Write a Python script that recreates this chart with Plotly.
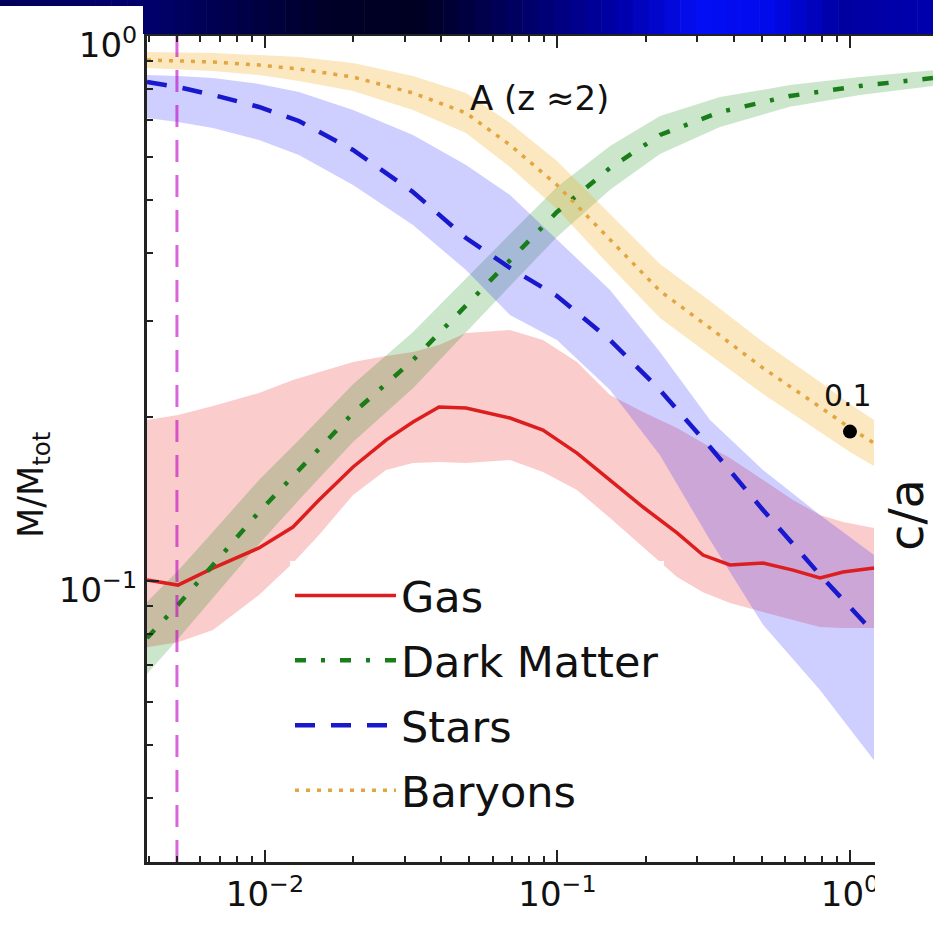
import numpy as np
import plotly.graph_objects as go

# ---------------- data ----------------
gas_r = [0.00395, 0.00504, 0.00664, 0.00954, 0.01246, 0.0153, 0.0200, 0.02593, 0.03206, 0.03935,
         0.04866, 0.0688, 0.0892, 0.1166, 0.1512, 0.196, 0.2563, 0.3144, 0.3888, 0.5043,
         0.6385, 0.7896, 0.9464, 1.208]
gas_mid = [0.1004, 0.0983, 0.1056, 0.1150, 0.1256, 0.1408, 0.1619, 0.1814, 0.1957, 0.2086,
           0.2077, 0.1991, 0.1892, 0.1717, 0.1532, 0.1367, 0.1225, 0.1116, 0.1070, 0.1079,
           0.1047, 0.1013, 0.1039, 0.1056]
gas_lo = [0.0756, 0.0772, 0.0813, 0.0943, 0.1079, 0.1215, 0.1438, 0.1598, 0.1646, 0.1653,
          0.1646, 0.1667, 0.1585, 0.1469, 0.1305, 0.1154, 0.1017, 0.0954, 0.0911, 0.0877,
          0.0848, 0.0823, 0.0820, 0.0820]
gas_hi = [0.1975, 0.2017, 0.2095, 0.2213, 0.2338, 0.2418, 0.2522, 0.2587, 0.2631, 0.2710,
          0.2851, 0.2888, 0.2768, 0.2522, 0.2194, 0.2042, 0.1909, 0.1791, 0.1681, 0.1532,
          0.1408, 0.1322, 0.1283, 0.1251]

dm_r = [0.00395, 0.00504, 0.00664, 0.00954, 0.01306, 0.0200, 0.03206, 0.04866, 0.0688, 0.0996,
        0.1512, 0.2241, 0.3594, 0.6236, 1.082, 1.922]
dm_mid = [0.0786, 0.0904, 0.1070, 0.1339, 0.1598, 0.2033, 0.2543, 0.3209, 0.3881, 0.4754,
          0.5726, 0.6582, 0.7254, 0.7762, 0.8097, 0.8372]
dm_lo = [0.0675, 0.0783, 0.0930, 0.1169, 0.1408, 0.1799, 0.2258, 0.2863, 0.3478, 0.4279,
         0.5220, 0.6072, 0.6811, 0.7413, 0.7793, 0.8097]
dm_hi = [0.0915, 0.1044, 0.1231, 0.1533, 0.1814, 0.2297, 0.2864, 0.3597, 0.4331, 0.5282,
         0.6281, 0.7135, 0.7726, 0.8127, 0.8413, 0.8657]

st_r = [0.00395, 0.00504, 0.00664, 0.00954, 0.01306, 0.0200, 0.03206, 0.04866, 0.0688, 0.0996,
        0.1512, 0.2241, 0.3322, 0.5043, 0.7896, 1.208]
st_mid = [0.8233, 0.8062, 0.7795, 0.7410, 0.6984, 0.6178, 0.5173, 0.4259, 0.3753, 0.3334,
          0.2768, 0.2241, 0.1761, 0.1350, 0.1026, 0.0803]
st_lo = [0.7074, 0.6955, 0.6780, 0.6445, 0.6049, 0.5329, 0.4498, 0.3721, 0.3076, 0.2768,
         0.2241, 0.1702, 0.1189, 0.0831, 0.0631, 0.0469]
st_hi = [0.8480, 0.8446, 0.8372, 0.8165, 0.7894, 0.7317, 0.6582, 0.5799, 0.5108, 0.4222,
         0.3420, 0.2631, 0.1975, 0.1598, 0.1322, 0.1116]

ba_r = [0.00395, 0.00664, 0.00954, 0.01306, 0.0200, 0.03206, 0.04866, 0.0688, 0.0996, 0.1512,
        0.2241, 0.3322, 0.5043, 0.7896, 1.0, 1.208]
ba_mid = [0.9036, 0.8960, 0.8847, 0.8698, 0.8409, 0.7860, 0.7225, 0.6310, 0.5329, 0.4222,
          0.3405, 0.2912, 0.2459, 0.2086, 0.1909, 0.1791]
ba_lo = [0.8735, 0.8625, 0.8481, 0.8268, 0.7926, 0.7316, 0.6639, 0.5750, 0.4816, 0.3783,
         0.3038, 0.2598, 0.2203, 0.1877, 0.1725, 0.1625]
ba_hi = [0.9347, 0.9308, 0.9228, 0.9150, 0.8922, 0.8445, 0.7862, 0.6925, 0.5897, 0.4713,
         0.3816, 0.3264, 0.2745, 0.2318, 0.2113, 0.1974]

r_soft = 0.005            # vertical dashed line
point_r, point_v = [1.0], [0.188]
point_label = "0.1"
panel_label = "A (z ≈2)"

x_tickvals = [0.01, 0.1, 1.0]
x_ticktext = ["10<sup>−2</sup>", "10<sup>−1</sup>", "10<sup>0</sup>"]
y_tickvals = [0.1, 1.0]
y_ticktext = ["10<sup>−1</sup>", "10<sup>0</sup>"]
x_minor = [0.004, 0.005, 0.006, 0.007, 0.008, 0.009,
           0.02, 0.03, 0.04, 0.05, 0.06, 0.07, 0.08, 0.09,
           0.2, 0.3, 0.4, 0.5, 0.6, 0.7, 0.8, 0.9]
y_minor = [0.04, 0.05, 0.06, 0.07, 0.08, 0.09,
           0.2, 0.3, 0.4, 0.5, 0.6, 0.7, 0.8, 0.9]

FONT = "DejaVu Sans"
W, H = 933, 927
L, R, T, B = 147, 0, 36, 65
XR = [-2.4034, 0.2838]
YR = [-1.5156, 0.0]

fig = go.Figure()


def band(x, lo, hi, color):
    fig.add_trace(go.Scatter(
        x=list(x) + list(x)[::-1], y=list(hi) + list(lo)[::-1],
        mode="lines", fill="toself", fillcolor=color, line=dict(width=0),
        showlegend=False, hoverinfo="skip"))


band(gas_r, gas_lo, gas_hi, "rgba(240,40,40,0.24)")
band(dm_r, dm_lo, dm_hi, "rgba(0,128,0,0.2)")
band(st_r, st_lo, st_hi, "rgba(30,30,255,0.22)")
band(ba_r, ba_lo, ba_hi, "rgba(240,170,30,0.28)")

fig.add_trace(go.Scatter(x=gas_r, y=gas_mid, mode="lines", name="Gas", legendgroup="g",
                         line=dict(color="#dd1e1e", width=3.5)))
fig.add_trace(go.Scatter(x=dm_r, y=dm_mid, mode="lines", name="Dark Matter", legendgroup="d",
                         line=dict(color="#1a7d1a", width=4.5, dash="11px,15px,4px,15px")))
fig.add_trace(go.Scatter(x=st_r, y=st_mid, mode="lines", name="Stars", legendgroup="s",
                         line=dict(color="#1818cc", width=4.5, dash="20px,16px")))
fig.add_trace(go.Scatter(x=ba_r, y=ba_mid, mode="lines", name="Baryons", legendgroup="b",
                         line=dict(color="#e2a640", width=3.5, dash="4px,7px")))

fig.add_trace(go.Scatter(x=[r_soft, r_soft], y=[10 ** YR[0], 10 ** YR[1]], mode="lines",
                         line=dict(color="rgba(191,0,191,0.6)", width=3, dash="22px,13px"),
                         showlegend=False, hoverinfo="skip"))
fig.add_trace(go.Scatter(x=point_r, y=point_v, mode="markers",
                         marker=dict(color="black", size=14), showlegend=False))

# ---------------- decorations ----------------


def ypx(p):
    return 1 + (T - p) / (H - T - B)


def xpx(p):
    return (p - L) / (W - L - R)


shapes = []
# slide header gradient band
anchors_x = [0, 144, 250, 330, 420, 520, 620, 700, 770, 840, 933]
anchors_c = [(0, 0, 90), (0, 0, 110), (0, 0, 70), (0, 0, 40), (0, 0, 35), (0, 0, 100),
             (0, 0, 170), (5, 15, 245), (0, 10, 235), (0, 0, 160), (0, 0, 175)]
edges = list(np.linspace(0, 143, 10)) + list(np.linspace(143, W, 51))[1:]
for i in range(len(edges) - 1):
    xm = 0.5 * (edges[i] + edges[i + 1])
    c = [int(np.interp(xm, anchors_x, [a[k] for a in anchors_c])) for k in range(3)]
    col = "rgb(%d,%d,%d)" % tuple(c)
    bot_px = 34 if edges[i] >= 142.9 else 6
    shapes.append(dict(type="rect", xref="paper", yref="paper",
                       x0=xpx(edges[i]), x1=xpx(edges[i + 1] + 0.6),
                       y0=ypx(bot_px), y1=ypx(0), fillcolor=col,
                       line=dict(width=0), layer="above"))
# white cover on the right (overlapping neighbouring panel)
shapes.append(dict(type="rect", xref="paper", yref="paper",
                   x0=xpx(875), x1=xpx(W + 5), y0=ypx(H + 5), y1=ypx(108),
                   fillcolor="white", line=dict(width=0), layer="above"))
fig.update_layout(shapes=shapes)

annotations = [
    dict(text=panel_label, x=np.log10(0.0871), y=np.log10(0.769), xref="x", yref="y",
         xanchor="center", yanchor="middle", showarrow=False,
         font=dict(family=FONT, size=34, color="#111")),
    dict(text=point_label, x=np.log10(0.805), y=np.log10(0.2194), xref="x", yref="y",
         xanchor="left", yanchor="middle", showarrow=False,
         font=dict(family=FONT, size=30, color="#111")),
    dict(text="M/M<sub>tot</sub>", x=xpx(33), y=ypx(485), xref="paper", yref="paper",
         xanchor="center", yanchor="middle", textangle=-90, showarrow=False,
         font=dict(family=FONT, size=35, color="#111")),
    dict(text="c/a", x=xpx(906), y=ypx(515), xref="paper", yref="paper",
         xanchor="center", yanchor="middle", textangle=-90, showarrow=False,
         font=dict(family=FONT, size=48, color="#111")),
]
fig.update_layout(annotations=annotations)

axis_common = dict(type="log", showgrid=False, zeroline=False, showline=True,
                   linecolor="#222", linewidth=3, ticks="inside", ticklen=12, tickwidth=2,
                   tickcolor="#222", tickfont=dict(family=FONT, size=34, color="#111"))
fig.update_xaxes(range=XR, tickmode="array", tickvals=x_tickvals, ticktext=x_ticktext,
                 mirror="ticks",
                 minor=dict(tickmode="array", tickvals=x_minor, ticks="inside", ticklen=6,
                            tickwidth=1.5, tickcolor="#222"),
                 **axis_common)
fig.update_yaxes(range=YR, tickmode="array", tickvals=y_tickvals, ticktext=y_ticktext,
                 mirror=False, ticklabelshift=9,
                 minor=dict(tickmode="array", tickvals=y_minor, ticks="inside", ticklen=6,
                            tickwidth=1.5, tickcolor="#222"),
                 **axis_common)

fig.update_layout(
    width=W, height=H, margin=dict(l=L, r=R, t=T, b=B, autoexpand=False),
    paper_bgcolor="white", plot_bgcolor="white",
    font=dict(family=FONT, color="#111"),
    legend=dict(x=xpx(290), y=ypx(561), xanchor="left", yanchor="top",
                bgcolor="white", borderwidth=0, traceorder="grouped",
                font=dict(family=FONT, size=43, color="#111"),
                itemwidth=101, tracegroupgap=6),
)

fig.write_html("out.html")
